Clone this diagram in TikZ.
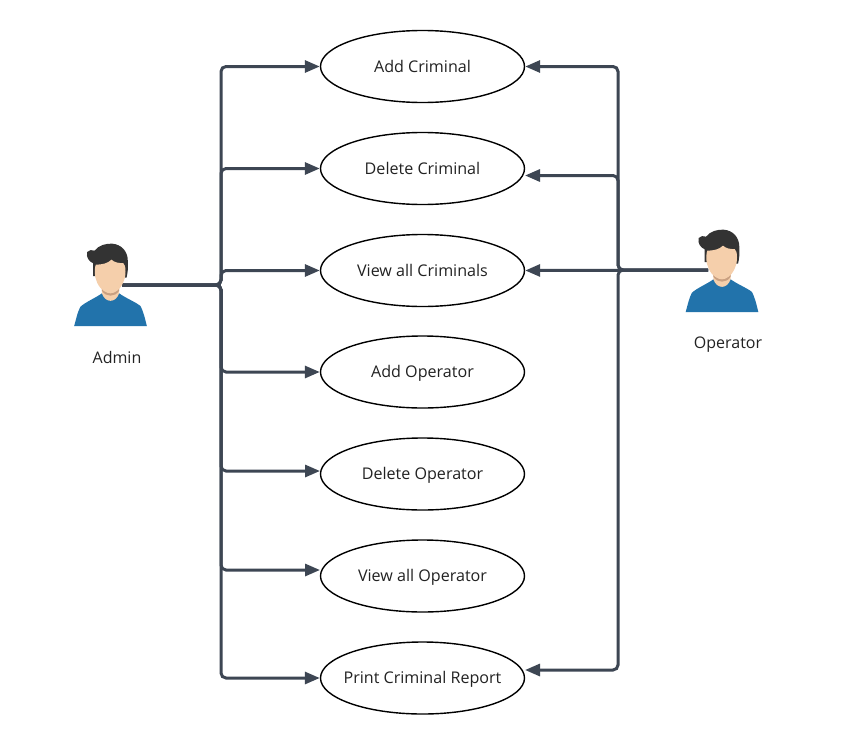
\documentclass[tikz,border=0pt]{standalone}
\usepackage{fontspec}
\setmainfont{Open Sans}
\usetikzlibrary{arrows.meta,calc,shapes.geometric}
\definecolor{conncol}{HTML}{3D4653}
\definecolor{txtcol}{HTML}{222222}
\definecolor{shirt}{HTML}{2273AB}
\definecolor{skin}{HTML}{F5CFAB}
\definecolor{neckshade}{HTML}{C9A081}
\definecolor{hair}{HTML}{333333}
\tikzset{
  usecase/.style={draw=black,line width=1.4pt,fill=white,ellipse,minimum width=204pt,minimum height=72pt,inner ysep=0pt,inner xsep=-30pt,text height=11.5pt,text depth=0pt,font=\fontsize{16.1}{18}\selectfont,text=txtcol},
  actorlabel/.style={font=\fontsize{16}{18}\selectfont,text=txtcol,inner sep=0pt,text height=11.5pt,text depth=0pt},
  conn/.style={draw=conncol,line width=3pt,rounded corners=5pt,-{Triangle[length=15pt,width=12pt]}},
  person/.pic={
    \begin{scope}[x=0.3333pt,y=-0.3333pt]
      % shirt
      \fill[shirt] (-109,0) .. controls (-102,-25) and (-98,-45) .. (-90,-58)
        .. controls (-75,-72) and (-45,-84) .. (-26,-98) -- (26,-98)
        .. controls (45,-84) and (75,-72) .. (90,-60)
        .. controls (98,-45) and (103,-25) .. (109,0) -- cycle;
      % neck
      \fill[skin] (-26,-125) -- (-26,-98) .. controls (-15,-68) and (15,-68) .. (26,-98) -- (26,-125) -- cycle;
      \fill[neckshade] (-26,-125) -- (-26,-106) .. controls (-14,-86) and (14,-86) .. (26,-106) -- (26,-125) -- cycle;
      % hair
      \fill[hair] (-52,-150) .. controls (-52,-165) and (-52,-180) .. (-52,-188)
        .. controls (-64,-194) and (-74,-205) .. (-70,-222)
        .. controls (-64,-230) and (-56,-228) .. (-48,-226)
        .. controls (-35,-243) and (-12,-248) .. (5,-247)
        .. controls (32,-245) and (52,-225) .. (52,-195)
        .. controls (53,-175) and (52,-160) .. (48,-145) -- cycle;
      % face
      \fill[skin] (-47,-165) .. controls (-47,-175) and (-46,-180) .. (-44,-184)
        .. controls (-25,-184) and (-8,-188) .. (3,-199)
        .. controls (12,-190) and (28,-188) .. (38,-189)
        .. controls (42,-186) and (45,-178) .. (45,-165)
        .. controls (45,-150) and (43,-140) .. (38,-130)
        .. controls (28,-108) and (12,-98) .. (0,-98)
        .. controls (-12,-98) and (-30,-108) .. (-40,-130)
        .. controls (-45,-140) and (-47,-150) .. (-47,-165) -- cycle;
    \end{scope}
  }
}
\begin{document}
\begin{tikzpicture}[x=1pt,y=-1pt]
\useasboundingbox (0,0) rectangle (845,744);
\fill[white] (0,0) rectangle (845,744);
\node[usecase] (e1) at (422.5,66.5) {Add Criminal};
\node[usecase] (e2) at (422.5,168.5) {Delete Criminal};
\node[usecase] (e3) at (422.5,270.5) {View all Criminals};
\node[usecase] (e4) at (422.5,372) {Add Operator};
\node[usecase] (e5) at (422.5,474) {Delete Operator};
\node[usecase] (e6) at (422.5,576) {View all Operator};
\node[usecase] (e7) at (422.5,678) {Print Criminal Report};
\coordinate (e5in) at (320,471);
\coordinate (e6in) at (320,570);
\coordinate (e2in) at (525,175.5);
\coordinate (e7in) at (525,670);
\coordinate (adminport) at (122,285);
\coordinate (opport) at (708,270);
\coordinate (tl) at (221,285);
\coordinate (tr) at (618,270);
\node[actorlabel] (adminlabel) at (117,358) {Admin};
\node[actorlabel] (oplabel) at (728,343) {Operator};
\path[conn] (adminport) -- (tl) -- (tl |- e1.west) -- (e1.west);
\path[conn] (adminport) -- (tl) -- (tl |- e2.west) -- (e2.west);
\path[conn] (adminport) -- (tl) -- (tl |- e3.west) -- (e3.west);
\path[conn] (adminport) -- (tl) -- (tl |- e4.west) -- (e4.west);
\path[conn] (adminport) -- (tl) -- (tl |- e5in) -- (e5in);
\path[conn] (adminport) -- (tl) -- (tl |- e6in) -- (e6in);
\path[conn] (adminport) -- (tl) -- (tl |- e7.west) -- (e7.west);
\path[conn] (opport) -- (tr) -- (tr |- e1.east) -- (e1.east);
\path[conn] (opport) -- (tr) -- (tr |- e2in) -- (e2in);
\path[conn] (opport) -- (e3.east);
\path[conn] (opport) -- (tr) -- (tr |- e7in) -- (e7in);
\pic at (110.5,326) {person};
\pic at (722,312) {person};
\end{tikzpicture}
\end{document}
